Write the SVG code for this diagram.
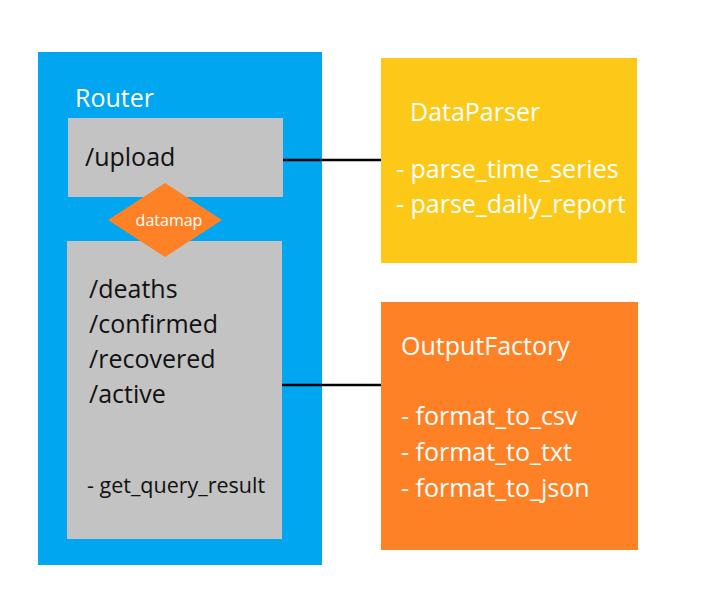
<svg xmlns="http://www.w3.org/2000/svg" width="710" height="599" viewBox="0 0 710 599">
<style>
text{font-family:"Open Sans","Noto Sans","DejaVu Sans",sans-serif;}
.w{fill:#ffffff;font-size:25px;}
.k{fill:#111111;font-size:25px;}
.conn{stroke:#000000;stroke-width:2.5;fill:none;}
</style>
<rect width="710" height="599" fill="#ffffff"/>
<g id="router">
<rect x="38" y="52" width="284" height="513" fill="#00a6f0"/>
<text class="w" x="75" y="107">Router</text>
</g>
<g id="upload">
<rect x="68" y="118" width="215" height="79" fill="#c3c3c3"/>
<text class="k" x="85" y="166">/upload</text>
</g>
<g id="endpoints">
<rect x="67" y="241" width="215" height="298" fill="#c3c3c3"/>
<text class="k" x="89" y="298">/deaths</text>
<text class="k" x="89" y="333">/confirmed</text>
<text class="k" x="89" y="368">/recovered</text>
<text class="k" x="89" y="403">/active</text>
<text class="k" x="87" y="493" style="font-size:21.5px">- get_query_result</text>
</g>
<g id="datamap">
<polygon points="165,183 222,220 165,257 108,220" fill="#fe8125"/>
<text x="169" y="226" text-anchor="middle" style="fill:#ffffff;font-size:16px">datamap</text>
</g>
<g id="dataparser">
<rect x="381" y="58" width="256" height="205" fill="#fdc918"/>
<text class="w" x="410" y="121">DataParser</text>
<text class="w" x="396" y="178">- parse_time_series</text>
<text class="w" x="396" y="213">- parse_daily_report</text>
</g>
<g id="outputfactory">
<rect x="381" y="302" width="257" height="248" fill="#fe8125"/>
<text class="w" x="401" y="355">OutputFactory</text>
<text class="w" x="401" y="425">- format_to_csv</text>
<text class="w" x="401" y="461">- format_to_txt</text>
<text class="w" x="401" y="497">- format_to_json</text>
</g>
<g id="connectors">
<line class="conn" x1="283" y1="160" x2="381" y2="160"/>
<line class="conn" x1="282" y1="385" x2="381" y2="385"/>
</g>
</svg>
